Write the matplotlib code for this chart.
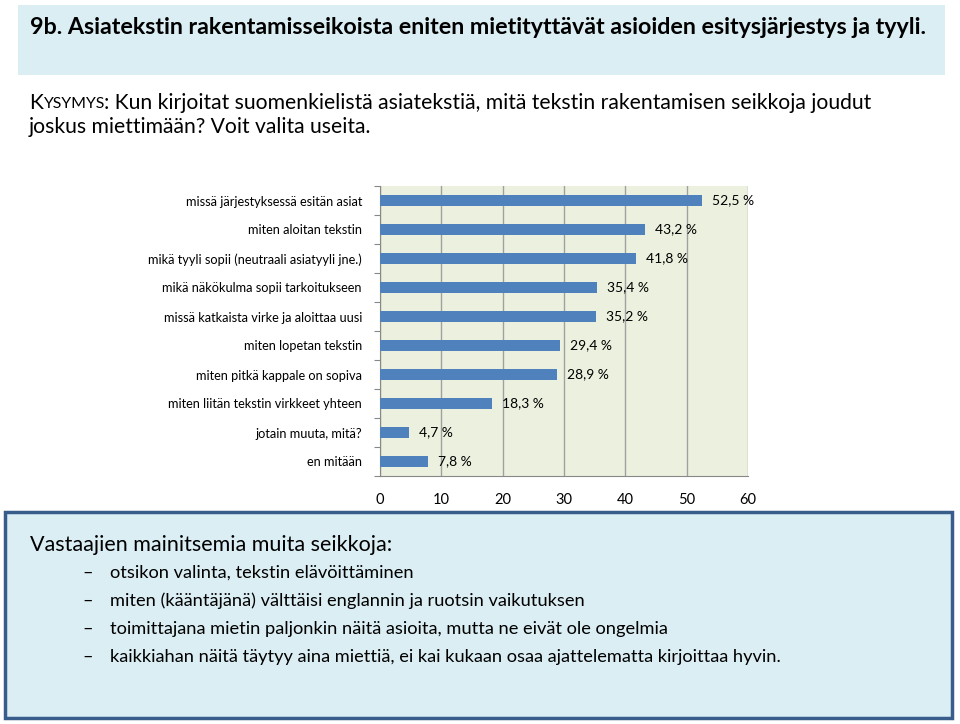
import matplotlib
matplotlib.use("Agg")
import matplotlib.pyplot as plt
from matplotlib.patches import Rectangle

categories = [
    "missä järjestyksessä esitän asiat",
    "miten aloitan tekstin",
    "mikä tyyli sopii (neutraali asiatyyli jne.)",
    "mikä näkökulma sopii tarkoitukseen",
    "missä katkaista virke ja aloittaa uusi",
    "miten lopetan tekstin",
    "miten pitkä kappale on sopiva",
    "miten liitän tekstin virkkeet yhteen",
    "jotain muuta, mitä?",
    "en mitään",
]
values = [52.5, 43.2, 41.8, 35.4, 35.2, 29.4, 28.9, 18.3, 4.7, 7.8]
xticks = [0, 10, 20, 30, 40, 50, 60]

title = "9b. Asiatekstin rakentamisseikoista eniten mietityttävät asioiden esitysjärjestys ja tyyli."
q_line1 = ": Kun kirjoitat suomenkielistä asiatekstiä, mitä tekstin rakentamisen seikkoja joudut"
q_line2 = "joskus miettimään? Voit valita useita."
box_head = "Vastaajien mainitsemia muita seikkoja:"
bullets = [
    "otsikon valinta, tekstin elävöittäminen",
    "miten (kääntäjänä) välttäisi englannin ja ruotsin vaikutuksen",
    "toimittajana mietin paljonkin näitä asioita, mutta ne eivät ole ongelmia",
    "kaikkiahan näitä täytyy aina miettiä, ei kai kukaan osaa ajattelematta kirjoittaa hyvin.",
]

FONT = "Lato"
plt.rcParams['font.family'] = [FONT, 'DejaVu Sans']

W, H = 960, 724
fig = plt.figure(figsize=(W / 100, H / 100), dpi=100)
fig.patch.set_facecolor("white")

def fx(x):
    return x / W

def fy(y):
    return 1 - y / H

renderer = fig.canvas.get_renderer()

def fit(t, target_w):
    bb = t.get_window_extent(renderer=renderer)
    fs = t.get_fontsize()
    t.set_fontsize(fs * target_w / bb.width)

# Title band
fig.patches.append(Rectangle((fx(18), fy(75)), fx(945) - fx(18), fy(5) - fy(75),
                             transform=fig.transFigure, facecolor="#DBEEF4", edgecolor="none", zorder=0))
t = fig.text(fx(30), fy(28), title, fontsize=16, fontweight="bold", va="center", ha="left")
fit(t, 905)

# Question (measure full first line width and scale)
def draw_question(fs):
    a = fig.text(fx(29), fy(103), "K", fontsize=fs, va="center", ha="left")
    fig.canvas.draw()
    bb = a.get_window_extent(renderer=renderer)
    b = fig.text(bb.x1 / W, fy(104), "YSYMYS", fontsize=fs * 0.75, va="center", ha="left")
    fig.canvas.draw()
    bb2 = b.get_window_extent(renderer=renderer)
    c = fig.text(bb2.x1 / W, fy(103), q_line1, fontsize=fs, va="center", ha="left")
    fig.canvas.draw()
    bb3 = c.get_window_extent(renderer=renderer)
    return [a, b, c], bb3.x1 - 29

objs, wq = draw_question(13)
fsq = 13 * 840 / wq
for o in objs:
    o.remove()
objs, wq = draw_question(fsq)
fig.text(fx(29), fy(127), q_line2, fontsize=fsq, va="center", ha="left")

# Chart
ax = fig.add_axes([fx(380), fy(476), fx(748) - fx(380), fy(186) - fy(476)])
ax.set_facecolor("#EBF1DE")
n = len(categories)
pos = list(range(n))
ax.barh(pos, values, height=0.4, color="#4F81BD", zorder=3)
ax.set_xlim(0, 60)
ax.set_ylim(n - 0.5, -0.5)
ax.set_xticks(xticks)
ax.set_xticklabels([str(v) for v in xticks])
ax.xaxis.grid(True, color="#A0A0A0", linewidth=1, zorder=1)
ax.tick_params(axis="x", length=0, labelsize=10.5, pad=12, colors="black")
ax.set_yticks([i - 0.5 for i in range(n + 1)])
ax.set_yticklabels([])
ax.tick_params(axis="y", which="major", length=4, color="#888888", direction="out")
ax.set_yticks(pos, minor=True)
ax.set_yticklabels(categories, minor=True)
ax.tick_params(axis="y", which="minor", length=0, labelsize=9.2, pad=13)
for s in ["top", "right"]:
    ax.spines[s].set_visible(False)
ax.spines["left"].set_color("#888888")
ax.spines["bottom"].set_color("#888888")
for i, v in enumerate(values):
    ax.text(v + 1.6, i, f"{v:.1f} %".replace(".", ","), va="center", ha="left", fontsize=10, zorder=4)

# Bottom box
fig.patches.append(Rectangle((fx(5), fy(718)), fx(952) - fx(5), fy(512) - fy(718),
                             transform=fig.transFigure, facecolor="#DBEEF4", edgecolor="#385D8A",
                             linewidth=2.5, zorder=0))
tv = fig.text(fx(30), fy(545), box_head, fontsize=15, va="center", ha="left")
fit(tv, 362)
fs_b = tv.get_fontsize() * 0.82
ys = [573, 601, 629, 657]
btexts = []
for y, b in zip(ys, bullets):
    btexts.append(fig.text(fx(82), fy(y), "–", fontsize=fs_b, va="center", ha="left"))
    tb = fig.text(fx(110), fy(y), b, fontsize=fs_b, va="center", ha="left")
    btexts.append(tb)
fig.canvas.draw()
bbl = tb.get_window_extent(renderer=renderer)
scale = (783 - 110) / bbl.width
for tt in btexts:
    tt.set_fontsize(tt.get_fontsize() * scale)

fig.savefig("out.png", dpi=100, facecolor="white")
